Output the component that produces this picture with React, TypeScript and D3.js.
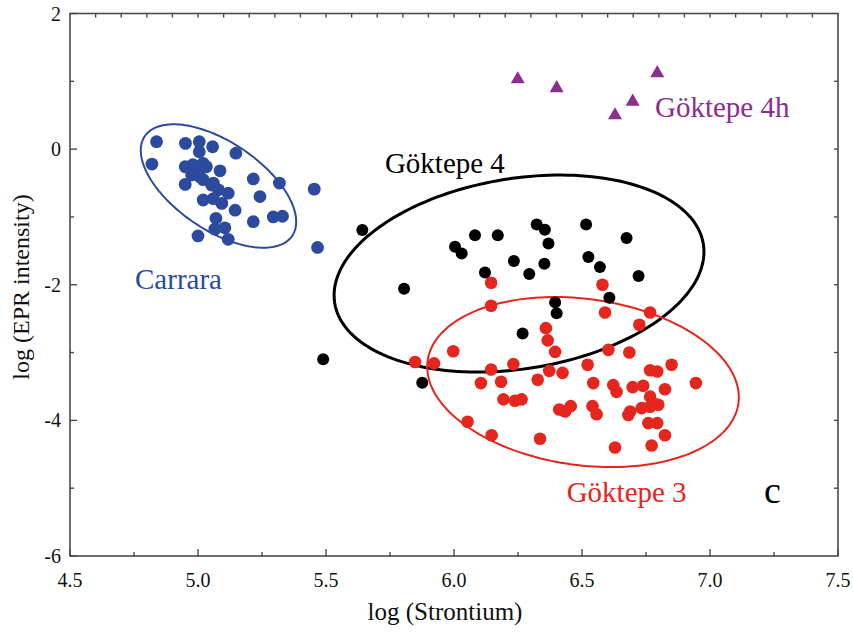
import React from 'react'
import * as d3 from 'd3'

// log (Strontium) / log (EPR intensity) per marble group
const carraraSr = [4.838, 4.82, 4.951, 5.005, 5.057, 5.005, 5.148, 4.95, 4.98, 4.995, 5.02, 5.033, 5.086, 4.95, 5.008, 5.06, 5.08, 5.118, 5.02, 5.06, 5.093, 5.145, 5.216, 5.242, 5.318, 5.216, 5.294, 5.33, 5.07, 5.066, 5.105, 5.0, 5.118, 5.454, 5.467, 5.02, 5.053, 4.975]
const carraraEpr = [0.11, -0.22, 0.085, 0.11, 0.035, -0.04, -0.06, -0.26, -0.23, -0.33, -0.21, -0.26, -0.32, -0.52, -0.41, -0.5, -0.6, -0.65, -0.75, -0.73, -0.8, -0.9, -0.44, -0.7, -0.5, -1.07, -1.0, -0.99, -1.02, -1.18, -1.16, -1.28, -1.33, -0.59, -1.45, -0.45, -0.53, -0.38]

const gok4Sr = [5.489, 5.876, 5.642, 5.805, 6.004, 6.03, 6.082, 6.171, 6.323, 6.355, 6.369, 6.234, 6.121, 6.294, 6.353, 6.516, 6.674, 6.525, 6.57, 6.721, 6.607, 6.395, 6.401, 6.268]
const gok4Epr = [-3.1, -3.445, -1.193, -2.06, -1.44, -1.54, -1.27, -1.27, -1.11, -1.19, -1.39, -1.65, -1.82, -1.84, -1.69, -1.11, -1.31, -1.59, -1.74, -1.87, -2.19, -2.26, -2.42, -2.72]

const gok3Sr = [6.145, 6.58, 6.145, 6.59, 6.766, 6.724, 6.359, 6.366, 6.395, 6.603, 6.685, 5.997, 5.922, 5.848, 6.145, 6.232, 6.372, 6.424, 6.522, 6.105, 6.184, 6.327, 6.544, 6.622, 6.635, 6.698, 6.739, 6.766, 6.794, 6.85, 6.945, 6.824, 6.193, 6.238, 6.264, 6.411, 6.434, 6.456, 6.541, 6.557, 6.681, 6.688, 6.733, 6.766, 6.779, 6.798, 6.766, 6.759, 6.794, 6.824, 6.772, 6.629, 6.336, 6.147, 6.053]
const gok3Epr = [-1.97, -2.0, -2.31, -2.41, -2.41, -2.59, -2.64, -2.82, -2.99, -2.96, -3.0, -2.98, -3.16, -3.14, -3.25, -3.17, -3.27, -3.3, -3.18, -3.45, -3.43, -3.4, -3.45, -3.48, -3.58, -3.51, -3.49, -3.26, -3.28, -3.18, -3.45, -3.54, -3.69, -3.71, -3.69, -3.84, -3.87, -3.79, -3.79, -3.91, -3.92, -3.87, -3.82, -3.65, -3.75, -3.77, -3.8, -4.04, -4.04, -4.22, -4.37, -4.4, -4.27, -4.22, -4.02]

const gok4hSr = [6.249, 6.401, 6.794, 6.698, 6.629]
const gok4hEpr = [1.03, 0.9, 1.12, 0.7, 0.5]

// confidence ellipses: centre and the two semi-axis vectors, in data units
const carraraEllipse = { c: [5.08, -0.544], u: [0.288, -0.734], v: [-0.096, -0.538] }
const gok4Ellipse = { c: [6.254, -1.835], u: [0.72, 0.435], v: [0.0587, -1.386] }
const gok3Ellipse = { c: [6.504, -3.435], u: [0.607, -0.314], v: [-0.044, -1.214] }

const xTicks = [4.5, 5.0, 5.5, 6.0, 6.5, 7.0, 7.5]
const yTicks = [2, 0, -2, -4, -6]

const W = 853
const H = 635
const margin = { top: 13.5, right: 15, bottom: 79, left: 70 }

const blue = '#2c4b9e'
const red = '#e5261f'
const purple = '#8c2d8f'
const serif = { fontFamily: "'Liberation Serif', 'Times New Roman', Times, 'DejaVu Serif', serif" }

export default function App() {
	const x = d3.scaleLinear().domain([4.5, 7.5]).range([margin.left, W - margin.right])
	const y = d3.scaleLinear().domain([-6, 2]).range([H - margin.bottom, margin.top])

	const ellipsePath = (e: { c: number[]; u: number[]; v: number[] }) => {
		const pts = d3.range(0, 360, 2).map(a => {
			const t = (a * Math.PI) / 180
			return [e.c[0] + e.u[0] * Math.cos(t) + e.v[0] * Math.sin(t), e.c[1] + e.u[1] * Math.cos(t) + e.v[1] * Math.sin(t)]
		})
		return d3.line<number[]>().x(d => x(d[0])).y(d => y(d[1])).curve(d3.curveLinearClosed)(pts) || ''
	}

	const tri = d3.symbol().type(d3.symbolTriangle).size(85)() || ''

	const x0 = x(4.5), x1 = x(7.5), y0 = y(-6), y1 = y(2)
	const frame = '#4a4a4a'

	return (
		<svg width={W} height={H} style={{ position: 'absolute', left: 0, top: 0, background: '#fff' }}>
			{/* ellipses */}
			<path d={ellipsePath(carraraEllipse)} fill="none" stroke={blue} strokeWidth={2} />
			<path d={ellipsePath(gok4Ellipse)} fill="none" stroke="#000" strokeWidth={3} />
			<path d={ellipsePath(gok3Ellipse)} fill="none" stroke={red} strokeWidth={2} />

			{/* points */}
			{carraraSr.map((d, i) => <circle key={'b' + i} cx={x(d)} cy={y(carraraEpr[i])} r={6.4} fill={blue} />)}
			{gok3Sr.map((d, i) => <circle key={'r' + i} cx={x(d)} cy={y(gok3Epr[i])} r={6.3} fill={red} />)}
			{gok4Sr.map((d, i) => <circle key={'k' + i} cx={x(d)} cy={y(gok4Epr[i])} r={6} fill="#000" />)}
			{gok4hSr.map((d, i) => <path key={'p' + i} d={tri} transform={`translate(${x(d)},${y(gok4hEpr[i])})`} fill={purple} />)}

			{/* frame */}
			<rect x={x0} y={y1} width={x1 - x0} height={y0 - y1} fill="none" stroke={frame} strokeWidth={1.6} />

			{/* bottom ticks */}
			{d3.range(4.5, 7.5001, 0.25).map((t, i) => (
				<line key={'bt' + i} x1={x(t)} x2={x(t)} y1={y0} y2={y0 - (i % 2 === 0 ? 7 : 4)} stroke={frame} strokeWidth={1.4} />
			))}
			{/* top ticks */}
			{d3.range(4.6, 7.45, 0.1).map((t, i) => (
				<line key={'tt' + i} x1={x(t)} x2={x(t)} y1={y1} y2={y1 + 4} stroke={frame} strokeWidth={1.4} />
			))}
			{/* left ticks */}
			{d3.range(-6, 2.001, 1).map((t, i) => (
				<line key={'lt' + i} x1={x0} x2={x0 + (i % 2 === 0 ? 7 : 4)} y1={y(t)} y2={y(t)} stroke={frame} strokeWidth={1.4} />
			))}
			{/* right ticks */}
			{d3.range(-5, 2, 1).map((t, i) => (
				<line key={'rt' + i} x1={x1} x2={x1 - 4} y1={y(t)} y2={y(t)} stroke={frame} strokeWidth={1.4} />
			))}

			{/* tick labels */}
			{xTicks.map(t => (
				<text key={'xl' + t} style={serif} x={x(t)} y={y0 + 31} textAnchor="middle" fontSize={20} fill="#111">{t.toFixed(1)}</text>
			))}
			{yTicks.map(t => (
				<text key={'yl' + t} style={serif} x={x0 - 9} y={y(t)} dy="0.35em" textAnchor="end" fontSize={20} fill="#111">{t}</text>
			))}

			{/* axis titles */}
			<text style={serif} x={445} y={620} textAnchor="middle" fontSize={25} fill="#111">log (Strontium)</text>
			<text style={serif} transform={`translate(29,${287})rotate(-90)`} textAnchor="middle" fontSize={24} fill="#111">log (EPR intensity)</text>

			{/* group labels */}
			<text style={serif} x={x(4.754)} y={y(-2.063)} fontSize={29} fill={blue}>Carrara</text>
			<text style={serif} x={x(5.73)} y={y(-0.352)} fontSize={29} fill="#000">Göktepe 4</text>
			<text style={serif} x={x(6.785)} y={y(0.473)} fontSize={29} fill={purple}>Göktepe 4h</text>
			<text style={serif} x={x(6.44)} y={y(-5.205)} fontSize={29} fill={red}>Göktepe 3</text>
			<text style={serif} x={x(7.211)} y={y(-5.22)} fontSize={38} fill="#000">c</text>
		</svg>
	)
}
